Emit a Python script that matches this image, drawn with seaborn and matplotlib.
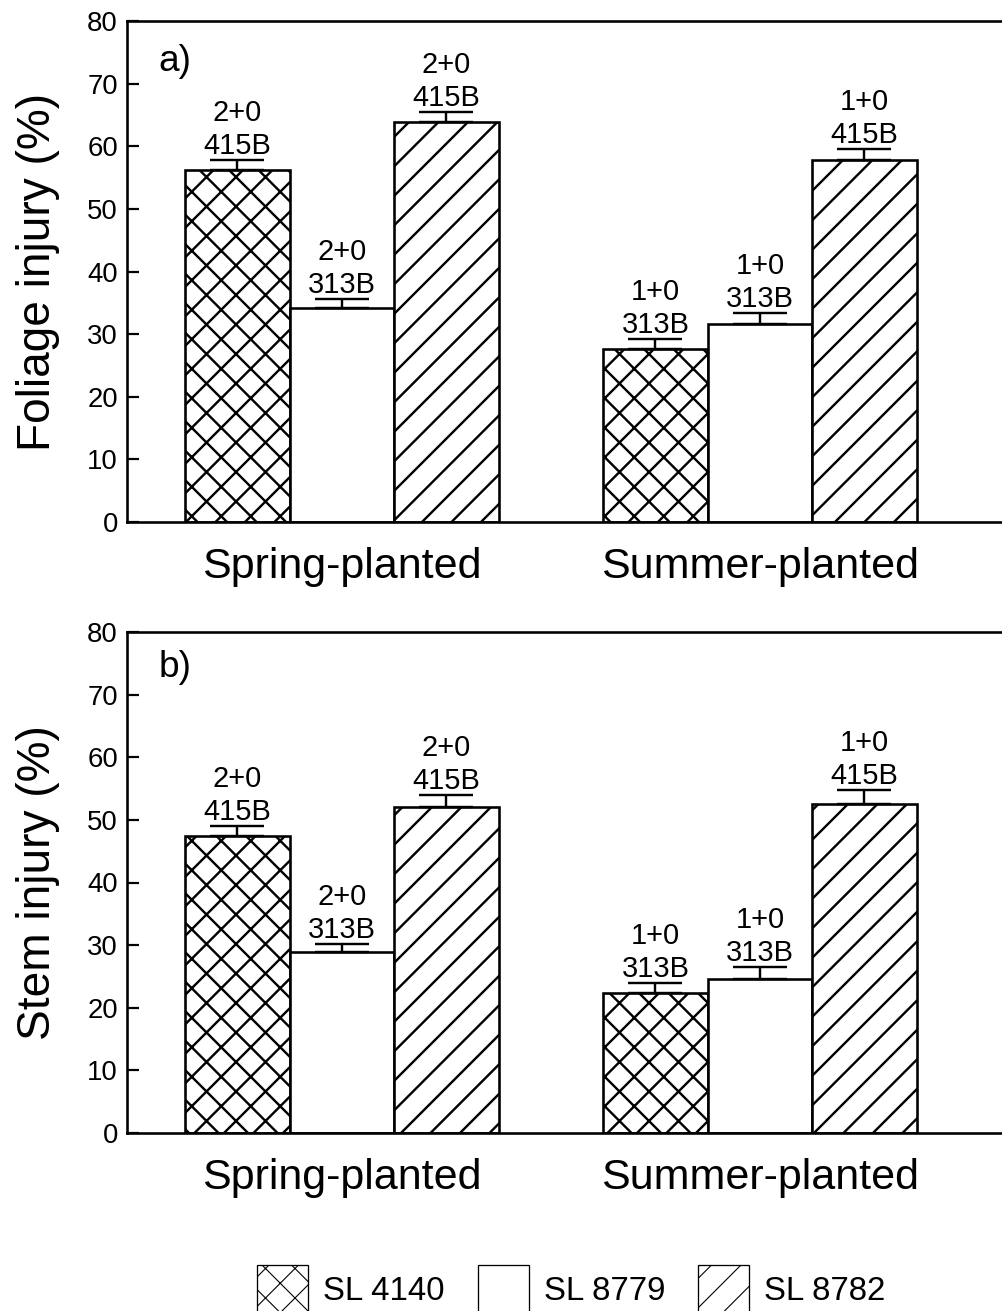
import numpy as np
import pandas as pd
import matplotlib
matplotlib.use("Agg")
import matplotlib.pyplot as plt
import seaborn as sns
from matplotlib.patches import Patch

# ---- data -------------------------------------------------------------
seasons = ["Spring-planted", "Summer-planted"]
clones = ["SL 4140", "SL 8779", "SL 8782"]
clone_hatch = ["xx", "", "//"]

# mean injury (%) per season (rows) and clone (columns)
foliage_mean = [[56.2, 34.2, 63.8],
                [27.6, 31.6, 57.8]]
foliage_se = [[1.6, 1.4, 1.6],
              [1.6, 1.7, 1.8]]
stem_mean = [[47.4, 28.9, 52.0],
             [22.3, 24.6, 52.6]]
stem_se = [[1.7, 1.2, 1.9],
           [1.7, 1.9, 2.2]]

# stock type and seedlot printed above each bar
stock_type = [["2+0", "2+0", "2+0"],
              ["1+0", "1+0", "1+0"]]
seedlot = [["415B", "313B", "415B"],
           ["313B", "313B", "415B"]]

y_ticks = [0, 10, 20, 30, 40, 50, 60, 70, 80]

# ---- figure setup -------------------------------------------------------
DPI = 177
W, H = 1002, 1311
PT = 72.0 / DPI          # pixel -> point conversion

sns.set_style("white")
plt.rcParams["font.family"] = ["Liberation Sans", "DejaVu Sans"]
plt.rcParams["text.color"] = "black"
plt.rcParams["axes.labelcolor"] = "black"
plt.rcParams["xtick.color"] = "black"
plt.rcParams["ytick.color"] = "black"
plt.rcParams["hatch.linewidth"] = 2.4 * PT
plt.rcParams["hatch.color"] = "black"

fig = plt.figure(figsize=(W / DPI, H / DPI), dpi=DPI)
fig.patch.set_facecolor("white")


def long_frame(mean, se):
    rows = []
    for si, s in enumerate(seasons):
        for ci, c in enumerate(clones):
            rows.append({"season": s, "clone": c,
                         "value": mean[si][ci], "se": se[si][ci],
                         "stock": stock_type[si][ci], "lot": seedlot[si][ci]})
    return pd.DataFrame(rows)


def draw_panel(ax, mean, se, ylabel, tag, tag_y):
    df = long_frame(mean, se)
    sns.barplot(data=df, x="season", y="value", hue="clone",
                order=seasons, hue_order=clones,
                palette=["white"] * 3, saturation=1,
                edgecolor="black", linewidth=2.6 * PT,
                width=0.75, errorbar=None, legend=False, ax=ax)

    bar_groups = list(ax.containers)
    for hi, cont in enumerate(bar_groups):
        for si, bar in enumerate(cont):
            bar.set_hatch(clone_hatch[hi])
            xc = bar.get_x() + bar.get_width() / 2
            h = bar.get_height()
            row = df[(df.season == seasons[si]) & (df.clone == clones[hi])].iloc[0]
            err = row["se"]
            # upper half of the error bar only
            ax.errorbar([xc], [h], yerr=[[0], [err]], fmt="none",
                        ecolor="black", elinewidth=2.4 * PT,
                        capsize=27 * PT, capthick=2.4 * PT, zorder=3)
            top = h + err
            ax.annotate(row["lot"], xy=(xc, top), xytext=(0, 6 * PT),
                        textcoords="offset points", ha="center",
                        va="baseline", fontsize=29 * PT)
            ax.annotate(row["stock"], xy=(xc, top), xytext=(0, 39 * PT),
                        textcoords="offset points", ha="center",
                        va="baseline", fontsize=29 * PT)

    ax.set_ylim(0, 80)
    ax.set_xlim(-0.514, 1.579)
    ax.set_yticks(y_ticks)
    ax.set_yticklabels([str(t) for t in y_ticks])
    ax.tick_params(axis="y", direction="in", length=12 * PT, width=2.2 * PT,
                   pad=9 * PT, labelsize=27.5 * PT, left=True)
    ax.tick_params(axis="x", length=0, pad=25 * PT, labelsize=43 * PT)
    ax.set_xlabel("")
    ax.set_ylabel(ylabel, fontsize=46 * PT)
    ax.yaxis.set_label_coords(-0.076, 0.5)
    for side in ["left", "bottom", "top"]:
        ax.spines[side].set_visible(True)
        ax.spines[side].set_linewidth(2.6 * PT)
        ax.spines[side].set_color("black")
    ax.spines["right"].set_visible(False)
    ax.text(0.036, tag_y, tag, transform=ax.transAxes, fontsize=37 * PT,
            ha="left", va="center")


left = 127 / W
width = 1 - left
ax_a = fig.add_axes([left, 1 - 522 / H, width, 501 / H])
ax_b = fig.add_axes([left, 1 - 1133 / H, width, 501 / H])

draw_panel(ax_a, foliage_mean, foliage_se, "Foliage injury (%)", "a)", 0.92)
draw_panel(ax_b, stem_mean, stem_se, "Stem injury (%)", "b)", 0.93)

# ---- shared legend --------------------------------------------------------
plt.rcParams["hatch.linewidth"] = 1.1 * PT
handles = [Patch(facecolor="white", edgecolor="black", hatch=h,
                 linewidth=1.3 * PT) for h in clone_hatch]
for hp in handles:
    if hasattr(hp, "set_hatch_linewidth"):
        hp.set_hatch_linewidth(1.1 * PT)
leg_fs = 33
fig.legend(handles, clones, loc="upper left",
           bbox_to_anchor=(257 / W, 1 - 1265 / H),
           ncol=3, frameon=False, fontsize=leg_fs * PT,
           handlelength=51 / leg_fs, handleheight=1.9,
           handletextpad=15 / leg_fs, columnspacing=33 / leg_fs,
           borderpad=0, borderaxespad=0)

fig.savefig("out.png", dpi=DPI, facecolor="white")
